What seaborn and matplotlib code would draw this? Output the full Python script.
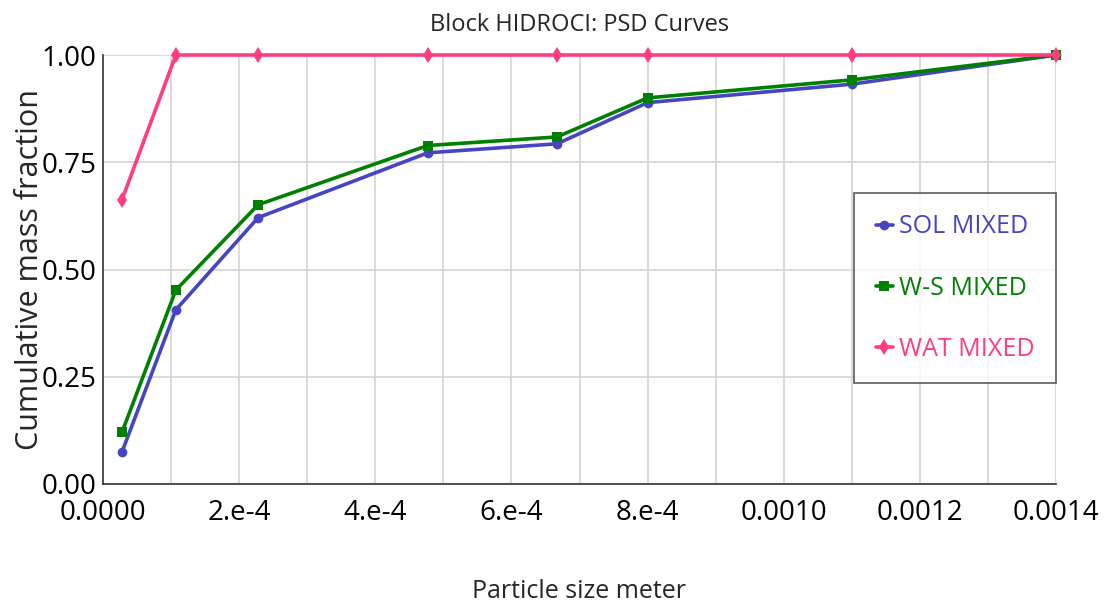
import matplotlib
matplotlib.use("Agg")
import matplotlib.pyplot as plt
import seaborn as sns
import pandas as pd
import numpy as np
from matplotlib.ticker import FixedLocator, FixedFormatter, MultipleLocator

sizes = [2.8e-5, 1.07e-4, 2.28e-4, 4.77e-4, 6.67e-4, 8.0e-4, 1.1e-3, 1.4e-3]
sol_mixed = [0.075, 0.406, 0.621, 0.772, 0.793, 0.889, 0.932, 1.0]
ws_mixed = [0.121, 0.452, 0.651, 0.789, 0.809, 0.900, 0.942, 1.0]
wat_mixed = [0.663, 1.0, 1.0, 1.0, 1.0, 1.0, 1.0, 1.0]
series_names = ["SOL MIXED", "W-S MIXED", "WAT MIXED"]
colors = ["#4545C4", "#008000", "#FF3D7F"]
markers = ["o", "s", "d"]
x_tick_values = [0.0, 2e-4, 4e-4, 6e-4, 8e-4, 1.0e-3, 1.2e-3, 1.4e-3]
x_tick_labels = ["0.0000", "2.e-4", "4.e-4", "6.e-4", "8.e-4", "0.0010", "0.0012", "0.0014"]
y_tick_values = [0.0, 0.25, 0.5, 0.75, 1.0]
y_tick_labels = ["0.00", "0.25", "0.50", "0.75", "1.00"]

df = pd.DataFrame({
    "size": sizes * 3,
    "frac": sol_mixed + ws_mixed + wat_mixed,
    "series": [n for n in series_names for _ in sizes],
})

sns.set_theme(style="white")
plt.rcParams["font.family"] = ["Open Sans", "DejaVu Sans"]

fig = plt.figure(figsize=(11.05, 6.05), dpi=100)
ax = fig.add_axes([103/1105, 1-484/605, (1056-103)/1105, (484-55)/605])

msizes = {"SOL MIXED": 7, "W-S MIXED": 7, "WAT MIXED": 8}
zorders = {"SOL MIXED": 3, "W-S MIXED": 4, "WAT MIXED": 5}
for name, c, m in zip(series_names, colors, markers):
    sub = df[df["series"] == name]
    sns.lineplot(data=sub, x="size", y="frac", ax=ax, color=c, marker=m,
                 markersize=msizes[name], markeredgewidth=0, linewidth=2.6,
                 label=name, clip_on=False, zorder=zorders[name])

ax.set_xlim(0, 0.0014)
ax.set_ylim(0, 1.0)
ax.xaxis.set_major_locator(FixedLocator(x_tick_values))
ax.xaxis.set_major_formatter(FixedFormatter(x_tick_labels))
ax.xaxis.set_minor_locator(MultipleLocator(1e-4))
ax.yaxis.set_major_locator(FixedLocator(y_tick_values))
ax.yaxis.set_major_formatter(FixedFormatter(y_tick_labels))

ax.grid(True, which="both", axis="x", color="#d4d4d4", linewidth=1.2)
ax.grid(True, which="major", axis="y", color="#d4d4d4", linewidth=1.2)
ax.set_axisbelow(True)
for s in ["top", "right"]:
    ax.spines[s].set_visible(False)
for s in ["left", "bottom"]:
    ax.spines[s].set_color("#333333")
    ax.spines[s].set_linewidth(1.2)

ax.tick_params(axis="both", which="both", direction="in", length=4, width=1.1,
               color="#333333", labelsize=20, labelcolor="black")
ax.tick_params(axis="x", pad=11)
ax.tick_params(axis="y", pad=5)

ax.set_title("Block HIDROCI: PSD Curves", fontsize=17, pad=17)
ax.set_xlabel("Particle size meter", fontsize=18, labelpad=37)
ax.set_ylabel("Cumulative mass fraction", fontsize=22, va="center")
ax.yaxis.set_label_coords(-0.077, 0.5)

leg = ax.legend(loc="upper right", bbox_to_anchor=(1.0, 0.678), fontsize=18,
                frameon=True, fancybox=False, edgecolor="#333333",
                handlelength=0.7, handletextpad=0.25, labelspacing=1.45,
                borderpad=0.85, borderaxespad=0)
leg.get_frame().set_linewidth(1.2)
for text, c in zip(leg.get_texts(), colors):
    text.set_color(c)
for h in leg.legend_handles:
    h.set_linewidth(2.6)

fig.savefig("out.png", dpi=100)
